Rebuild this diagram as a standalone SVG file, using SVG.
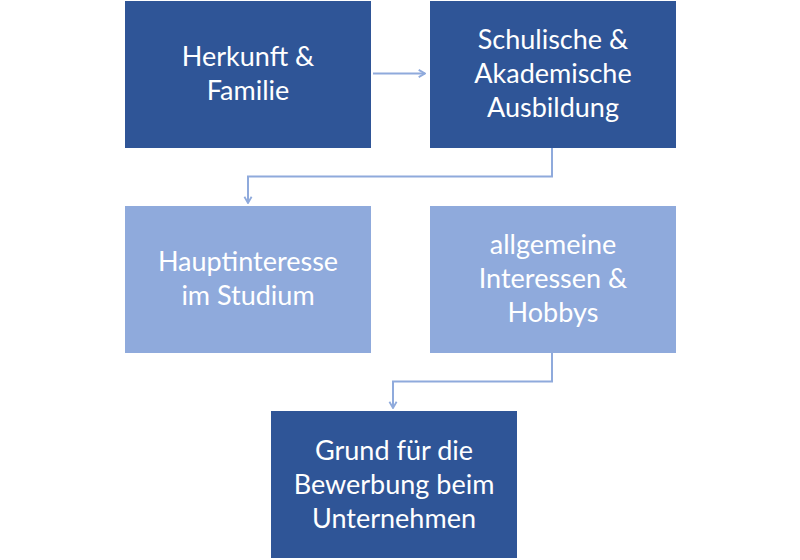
<svg xmlns="http://www.w3.org/2000/svg" width="800" height="560" viewBox="0 0 800 560">
<defs>
<style>
.dark{fill:#2F5597;}
.light{fill:#8FAADC;}
.lbl{font-family:Lato,"Open Sans","Liberation Sans",sans-serif;font-size:27px;fill:#FFFFFF;text-anchor:middle;}
.conn{fill:none;stroke:#8FAADC;stroke-width:2;}
</style>
<marker id="arr" viewBox="0 0 10 10" refX="9" refY="5" markerWidth="9" markerHeight="10" orient="auto" markerUnits="userSpaceOnUse">
<path d="M2,1 L9,5 L2,9" fill="none" stroke="#8FAADC" stroke-width="2"/>
</marker>
</defs>
<rect width="800" height="560" fill="#FFFFFF"/>
<g id="connectors">
<path class="conn" d="M373,73.5 L425,73.5" marker-end="url(#arr)"/>
<path class="conn" d="M552,148 L552,176.5 L248,176.5 L248,203" marker-end="url(#arr)"/>
<path class="conn" d="M552,353 L552,381.5 L393,381.5 L393,408" marker-end="url(#arr)"/>
</g>
<g id="n1">
<rect class="dark" x="125" y="1" width="246" height="147"/>
<text class="lbl" x="248" y="66">Herkunft &amp;</text>
<text class="lbl" x="248" y="100">Familie</text>
</g>
<g id="n2">
<rect class="dark" x="430" y="1" width="246" height="147"/>
<text class="lbl" x="553" y="49">Schulische &amp;</text>
<text class="lbl" x="553" y="83">Akademische</text>
<text class="lbl" x="553" y="117">Ausbildung</text>
</g>
<g id="n3">
<rect class="light" x="125" y="206" width="246" height="147"/>
<text class="lbl" x="248" y="271">Hauptinteresse</text>
<text class="lbl" x="248" y="305">im Studium</text>
</g>
<g id="n4">
<rect class="light" x="430" y="206" width="246" height="147"/>
<text class="lbl" x="553" y="254">allgemeine</text>
<text class="lbl" x="553" y="288">Interessen &amp;</text>
<text class="lbl" x="553" y="322">Hobbys</text>
</g>
<g id="n5">
<rect class="dark" x="271" y="411" width="246" height="147"/>
<text class="lbl" x="394" y="460">Grund für die</text>
<text class="lbl" x="394" y="494">Bewerbung beim</text>
<text class="lbl" x="394" y="528">Unternehmen</text>
</g>
</svg>
